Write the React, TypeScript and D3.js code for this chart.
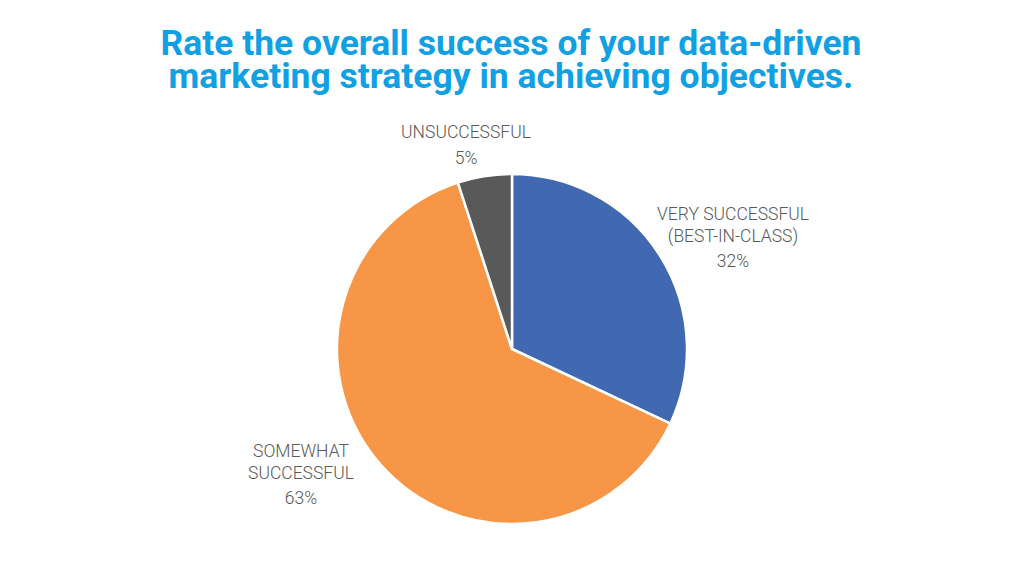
import { useEffect, useRef } from "react";
import * as d3 from "d3";

const categories = ["VERY SUCCESSFUL (BEST-IN-CLASS)", "SOMEWHAT SUCCESSFUL", "UNSUCCESSFUL"];
const values = [32, 63, 5];
const colors = ["#4169B2", "#F79646", "#595959"];
// label lines per slice, split as drawn in the picture
const labelLines = [
  ["VERY SUCCESSFUL", "(BEST-IN-CLASS)"],
  ["SOMEWHAT", "SUCCESSFUL"],
  ["UNSUCCESSFUL"],
];
const labelAnchors = [
  [733, 220],
  [301, 457],
  [466, 138],
];
const titleLines = [
  "Rate the overall success of your data-driven",
  "marketing strategy in achieving objectives.",
];

export default function App() {
  const svgRef = useRef<SVGSVGElement>(null);

  useEffect(() => {
    const svg = svgRef.current;
    if (!svg) return;
    const sel = d3.select(svg);
    sel.selectAll("*").remove();

    const width = 1024;
    const height = 576;
    const cx = 512;
    const cy = 349;
    const radius = 175;

    sel.append("rect").attr("width", width).attr("height", height).attr("fill", "#ffffff");

    // Title
    sel
      .append("g")
      .selectAll("text")
      .data(titleLines)
      .enter()
      .append("text")
      .attr("x", 511)
      .attr("y", (_d, i) => 54.5 + i * 33)
      .attr("text-anchor", "middle")
      .attr("font-family", "Roboto, sans-serif")
      .attr("font-weight", 700)
      .attr("font-size", 35.5)
      .attr("fill", "#10A0E4")
      .text((d) => d);

    const pie = d3
      .pie<number>()
      .sort(null)
      .value((d) => d);
    const arcs = pie(values);
    const arc = d3.arc<d3.PieArcDatum<number>>().innerRadius(0).outerRadius(radius);

    const g = sel.append("g").attr("transform", `translate(${cx},${cy})`);
    g.selectAll("path")
      .data(arcs)
      .enter()
      .append("path")
      .attr("d", arc)
      .attr("fill", (_d, i) => colors[i])
      .attr("stroke", "#ffffff")
      .attr("stroke-width", 2.5)
      .attr("stroke-linejoin", "round");

    // Labels
    const labels = sel.append("g");
    categories.forEach((_c, i) => {
      const [lx, ly] = labelAnchors[i];
      const t = labels
        .append("text")
        .attr("text-anchor", "middle")
        .attr("font-family", "Roboto, sans-serif")
        .attr("font-weight", 300)
        .attr("font-size", 17.5)
        .attr("fill", "#595959");
      labelLines[i].forEach((line, j) => {
        t.append("tspan").attr("x", lx).attr("y", ly + j * 21.5).text(line);
      });
      t.append("tspan")
        .attr("x", lx)
        .attr("y", ly + (labelLines[i].length - 1) * 21.5 + 25.5)
        .text(`${values[i]}%`);
    });
  }, []);

  return (
    <div style={{ position: "fixed", left: 0, top: 0 }}>
      <svg ref={svgRef} width={1024} height={576} style={{ display: "block" }} />
    </div>
  );
}
